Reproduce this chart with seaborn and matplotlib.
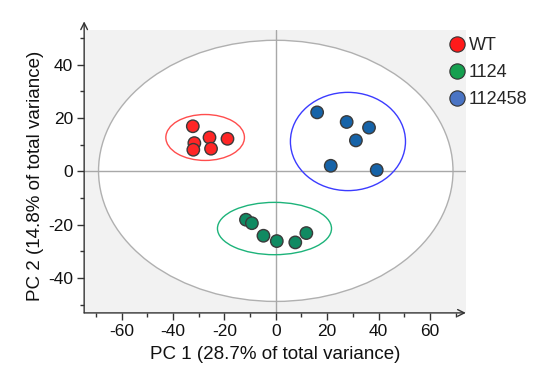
import matplotlib
matplotlib.use("Agg")
import matplotlib.pyplot as plt
import seaborn as sns
import pandas as pd
from matplotlib.patches import Ellipse
from matplotlib.lines import Line2D

# Data
groups = ["WT", "1124", "112458"]
wt_x = [-32.3, -31.7, -32.1, -25.8, -25.2, -18.8]
wt_y = [16.9, 10.6, 8.1, 12.7, 8.5, 12.2]
g1124_x = [-11.6, -9.3, -4.8, 0.4, 7.6, 11.9]
g1124_y = [-18.1, -19.4, -24.1, -26.1, -26.6, -23.1]
g112458_x = [16.1, 27.6, 36.3, 31.2, 21.4, 39.3]
g112458_y = [22.1, 18.5, 16.4, 11.6, 2.1, 0.5]

# Confidence ellipses: centre x, centre y, semi-axis x, semi-axis y
ell_cx = [-27.5, -0.5, 28.1, 0.0]
ell_cy = [12.7, -21.4, 11.2, 0.2]
ell_rx = [15.3, 22.2, 22.4, 69.0]
ell_ry = [8.6, 9.8, 18.4, 48.9]
ell_colors = ["#ff4d4d", "#1db37a", "#3b3bff", "#b0b0b0"]

xticks = [-60, -40, -20, 0, 20, 40, 60]
yticks = [-40, -20, 0, 20, 40]

point_colors = {"WT": "#ff2626", "1124": "#108a62", "112458": "#1663a8"}
legend_colors = ["#ff1a1a", "#16a050", "#4a74c4"]

df = pd.DataFrame({
    "PC1": wt_x + g1124_x + g112458_x,
    "PC2": wt_y + g1124_y + g112458_y,
    "group": ["WT"] * len(wt_x) + ["1124"] * len(g1124_x) + ["112458"] * len(g112458_x),
})

sns.set_style("white")
plt.rcParams["font.family"] = ["Liberation Sans", "DejaVu Sans"]
plt.rcParams["axes.unicode_minus"] = False

fig = plt.figure(figsize=(5.5, 3.83), dpi=100)
ax = fig.add_axes([0.153, 0.183, 0.694, 0.739])
ax.set_facecolor("#f2f2f2")
ax.set_xlim(-74.6, 74)
ax.set_ylim(-53, 53)

# Big Hotelling ellipse (white fill) and group ellipses
big = Ellipse((ell_cx[3], ell_cy[3]), 2 * ell_rx[3], 2 * ell_ry[3],
              facecolor="white", edgecolor=ell_colors[3], lw=1.0, zorder=1)
ax.add_patch(big)
ax.axhline(0, color="#a8a8a8", lw=1.0, zorder=1.5)
ax.axvline(0, color="#a8a8a8", lw=1.0, zorder=1.5)
for i in range(3):
    e = Ellipse((ell_cx[i], ell_cy[i]), 2 * ell_rx[i], 2 * ell_ry[i],
                facecolor="none", edgecolor=ell_colors[i], lw=1.0, zorder=2)
    ax.add_patch(e)

sns.scatterplot(data=df, x="PC1", y="PC2", hue="group", palette=point_colors,
                s=80, edgecolor="#3a3a3a", linewidth=1.0, legend=False, ax=ax, zorder=3)

for s in ax.spines.values():
    s.set_visible(False)

# Arrow axes
ax.annotate("", xy=(1.0, 0), xytext=(0, 0), xycoords="axes fraction",
            arrowprops=dict(arrowstyle="->", color="#333333", lw=1.0, shrinkA=0, shrinkB=0,
                            mutation_scale=12))
ax.annotate("", xy=(0, 1.03), xytext=(0, 0), xycoords="axes fraction",
            arrowprops=dict(arrowstyle="->", color="#333333", lw=1.0, shrinkA=0, shrinkB=0,
                            mutation_scale=12), annotation_clip=False)

ax.set_xticks(xticks)
ax.set_yticks(yticks)
ax.set_xticks([v + 10 for v in xticks[:-1]] + [-70, 70], minor=True)
ax.set_yticks([v + 10 for v in yticks[:-1]] + [-50, 50], minor=True)
ax.tick_params(axis="both", which="major", direction="out", length=5, width=1,
               color="#333333", labelsize=12.5, labelcolor="#111111", bottom=True, left=True,
               pad=3)
ax.tick_params(axis="both", which="minor", direction="out", length=3, width=1,
               color="#333333", bottom=True, left=True)
ax.set_xlabel("PC 1 (28.7% of total variance)", fontsize=13.5, color="#111111")
ax.set_ylabel("PC 2 (14.8% of total variance)", fontsize=13.5, color="#111111")
ax.xaxis.set_label_coords(0.5, -0.148, transform=ax.transAxes)
ax.yaxis.set_label_coords(-0.128, 0.484, transform=ax.transAxes)
ax.yaxis.label.set_va("center")
ax.xaxis.label.set_va("center")

handles = [Line2D([0], [0], marker="o", linestyle="none", markersize=11,
                  markerfacecolor=c, markeredgecolor="#333333", markeredgewidth=0.8)
           for c in legend_colors]
leg = fig.legend(handles, groups, loc="upper left", bbox_to_anchor=(0.802, 0.922),
                 frameon=False, fontsize=13, handletextpad=0.15, labelspacing=0.55,
                 borderaxespad=0, handlelength=1.0)

fig.savefig("out.png", dpi=100)
